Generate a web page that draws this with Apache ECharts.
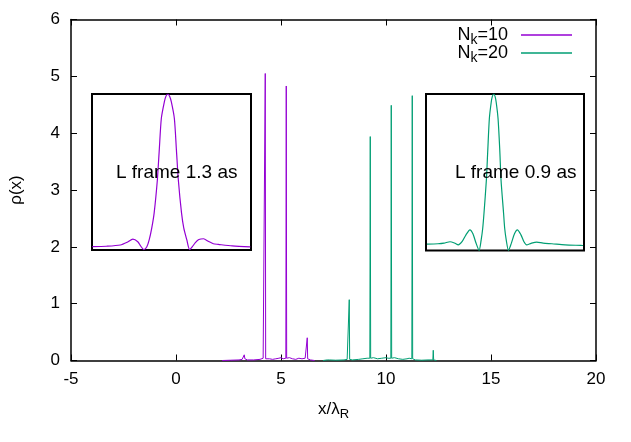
<!DOCTYPE html>
<html>
<head>
<meta charset="utf-8">
<script src="https://cdn.jsdelivr.net/npm/echarts@6/dist/echarts.min.js"></script>
<style>
  html, body { margin: 0; padding: 0; background: #fff; }
  #chart { width: 631px; height: 442px; }
</style>
</head>
<body>
<div id="chart"></div>
<script>
  // main curves: rho(x) for Nk=10 (purple) and Nk=20 (green)
  const purpleX = [2.2, 2.6, 3.0, 3.15, 3.22, 3.25, 3.28, 3.4, 3.7, 4.0, 4.15, 4.23, 4.25, 4.27, 4.35, 4.45, 4.6, 4.75, 4.9, 5.0, 5.1, 5.23, 5.25, 5.27, 5.4, 5.55, 5.7, 5.85, 6.0, 6.15, 6.23, 6.25, 6.27, 6.4, 6.6];
  const purpleY = [0.0, 0.005, 0.01, 0.02, 0.03, 0.10, 0.03, 0.01, 0.01, 0.02, 0.04, 0.03, 5.05, 0.03, 0.05, 0.03, 0.02, 0.03, 0.04, 0.05, 0.03, 0.04, 4.83, 0.04, 0.05, 0.03, 0.02, 0.04, 0.03, 0.04, 0.03, 0.40, 0.03, 0.01, 0.0];
  const greenX = [7.0, 7.2, 7.25, 7.3, 7.6, 8.0, 8.15, 8.23, 8.25, 8.27, 8.4, 8.7, 8.9, 9.1, 9.23, 9.25, 9.27, 9.4, 9.6, 9.8, 10.0, 10.1, 10.23, 10.25, 10.27, 10.4, 10.6, 10.8, 11.0, 11.1, 11.23, 11.25, 11.27, 11.4, 11.7, 12.0, 12.23, 12.25, 12.27, 12.4];
  const greenY = [0.0, 0.01, 0.03, 0.01, 0.005, 0.01, 0.02, 0.02, 1.07, 0.02, 0.01, 0.02, 0.03, 0.04, 0.04, 3.94, 0.04, 0.05, 0.03, 0.04, 0.05, 0.04, 0.04, 4.49, 0.04, 0.05, 0.03, 0.02, 0.03, 0.04, 0.03, 4.66, 0.03, 0.01, 0.005, 0.01, 0.01, 0.18, 0.01, 0.0];

  // insets (arbitrary units, peak normalised to 1)
  const leftInsetX = [0.02, 0.90, 1.78, 2.22, 2.57, 2.88, 3.07, 3.26, 3.45, 3.60, 3.76, 3.91, 4.11, 4.23, 4.36, 4.55, 4.65, 4.77, 4.88, 4.99, 5.18, 5.31, 5.43, 5.63, 5.77, 5.96, 6.14, 6.31, 6.50, 6.72, 7.02, 7.31, 7.63, 7.94, 8.82, 9.96];
  const leftInsetY = [0.021, 0.024, 0.032, 0.050, 0.070, 0.053, 0.024, 0.002, 0.021, 0.066, 0.142, 0.238, 0.449, 0.640, 0.843, 0.949, 0.985, 1.0, 0.985, 0.949, 0.843, 0.640, 0.449, 0.238, 0.142, 0.066, 0.002, 0.021, 0.047, 0.067, 0.072, 0.056, 0.040, 0.036, 0.026, 0.020];
  const rightInsetX = [0.06, 0.76, 1.14, 1.52, 1.84, 2.04, 2.28, 2.53, 2.78, 2.97, 3.16, 3.36, 3.49, 3.59, 3.67, 3.82, 3.91, 4.01, 4.13, 4.20, 4.29, 4.37, 4.44, 4.56, 4.67, 4.75, 4.91, 4.98, 5.08, 5.22, 5.41, 5.60, 5.78, 6.01, 6.20, 6.37, 6.65, 7.01, 7.41, 7.97, 8.80, 9.94];
  const rightInsetY = [0.041, 0.043, 0.047, 0.056, 0.046, 0.036, 0.056, 0.100, 0.132, 0.107, 0.049, 0.001, 0.066, 0.142, 0.238, 0.449, 0.640, 0.843, 0.949, 0.985, 1.0, 0.985, 0.949, 0.843, 0.640, 0.449, 0.238, 0.142, 0.066, 0.001, 0.049, 0.107, 0.132, 0.100, 0.056, 0.036, 0.046, 0.054, 0.047, 0.043, 0.036, 0.032];

  const legendNk = ['10', '20'];
  const insetLabels = ['L frame 1.3 as', 'L frame 0.9 as'];
  const xRange = [-5, 20];
  const yRange = [0, 6];

  const purple = '#9400d3';
  const green = '#009e73';
  const font = 'Liberation Sans, Arial, sans-serif';

  function zip(xs, ys) {
    return xs.map(function (x, i) { return [x, ys[i]]; });
  }

  const tickStyle = { show: true, inside: true, length: 6, lineStyle: { color: '#000', width: 1 } };
  const lineStyleAxis = { show: true, onZero: false, lineStyle: { color: '#000', width: 1.5 } };

  let myChart = echarts.init(document.getElementById('chart'), null, { renderer: 'canvas' });

  let option = {
    animation: false,
    backgroundColor: '#fff',
    textStyle: { fontFamily: font },
    grid: [
      { left: 71, top: 19.5, width: 525, height: 341 },
      { left: 92, top: 94, width: 159, height: 156, show: true, backgroundColor: '#fff', borderColor: '#000', borderWidth: 2, z: 5 },
      { left: 426, top: 94, width: 158, height: 156.5, show: true, backgroundColor: '#fff', borderColor: '#000', borderWidth: 2, z: 5 }
    ],
    legend: {
      orient: 'vertical',
      right: 54,
      top: 21,
      align: 'right',
      icon: 'rect',
      itemWidth: 51,
      itemHeight: 1.5,
      itemGap: -3,
      data: ['Nk=' + legendNk[0], 'Nk=' + legendNk[1]],
      formatter: function (name) {
        return '{n|N}{s|k}{n|' + name.slice(2) + '}';
      },
      textStyle: {
        padding: [0, 8, 0, 0],
        rich: {
          n: { fontSize: 18, color: '#000', fontFamily: font },
          s: { fontSize: 14, color: '#000', fontFamily: font, padding: [10, 0, 0, 0] }
        }
      }
    },
    xAxis: [
      {
        type: 'value', gridIndex: 0, position: 'bottom', min: xRange[0], max: xRange[1], interval: 5,
        axisLine: lineStyleAxis, axisTick: tickStyle, splitLine: { show: false },
        axisLabel: { color: '#000', fontSize: 17, margin: 10, fontFamily: font },
        name: '{n|x/λ}{s|R}', nameLocation: 'middle', nameGap: 38,
        nameTextStyle: {
          rich: {
            n: { fontSize: 17, color: '#000', fontFamily: font },
            s: { fontSize: 13, color: '#000', fontFamily: font, padding: [9, 0, 0, 0] }
          }
        }
      },
      {
        type: 'value', gridIndex: 0, position: 'top', min: xRange[0], max: xRange[1], interval: 5,
        axisLine: lineStyleAxis, axisTick: tickStyle, axisLabel: { show: false }, splitLine: { show: false }
      },
      { type: 'value', gridIndex: 1, min: 0, max: 10, show: false },
      { type: 'value', gridIndex: 2, min: 0, max: 10, show: false }
    ],
    yAxis: [
      {
        type: 'value', gridIndex: 0, position: 'left', min: yRange[0], max: yRange[1], interval: 1,
        axisLine: lineStyleAxis, axisTick: tickStyle, splitLine: { show: false },
        axisLabel: { color: '#000', fontSize: 17, margin: 11, fontFamily: font },
        name: 'ρ(x)', nameLocation: 'middle', nameGap: 46, nameRotate: 90,
        nameTextStyle: { color: '#000', fontSize: 17, fontFamily: font }
      },
      {
        type: 'value', gridIndex: 0, position: 'right', min: yRange[0], max: yRange[1], interval: 1,
        axisLine: lineStyleAxis, axisTick: tickStyle, axisLabel: { show: false }, splitLine: { show: false }
      },
      { type: 'value', gridIndex: 1, min: 0, max: 1, show: false },
      { type: 'value', gridIndex: 2, min: 0, max: 1, show: false }
    ],
    graphic: [
      {
        type: 'text', left: 116, top: 163, z: 100,
        style: { text: insetLabels[0], fontSize: 19, fontFamily: font, fill: '#000' }
      },
      {
        type: 'text', left: 455, top: 163, z: 100,
        style: { text: insetLabels[1], fontSize: 19, fontFamily: font, fill: '#000' }
      }
    ],
    series: [
      {
        name: 'Nk=' + legendNk[0], type: 'line', xAxisIndex: 0, yAxisIndex: 0,
        data: zip(purpleX, purpleY), symbol: 'none', lineStyle: { color: purple, width: 1 }, itemStyle: { color: purple }
      },
      {
        name: 'Nk=' + legendNk[1], type: 'line', xAxisIndex: 0, yAxisIndex: 0,
        data: zip(greenX, greenY), symbol: 'none', lineStyle: { color: green, width: 1 }, itemStyle: { color: green }
      },
      {
        type: 'line', xAxisIndex: 2, yAxisIndex: 2, z: 6, smooth: 0.25,
        data: zip(leftInsetX, leftInsetY), symbol: 'none', lineStyle: { color: purple, width: 1.2 }
      },
      {
        type: 'line', xAxisIndex: 3, yAxisIndex: 3, z: 6, smooth: 0.25,
        data: zip(rightInsetX, rightInsetY), symbol: 'none', lineStyle: { color: green, width: 1.2 }
      }
    ]
  };
  myChart.setOption(option);
</script>
</body>
</html>
